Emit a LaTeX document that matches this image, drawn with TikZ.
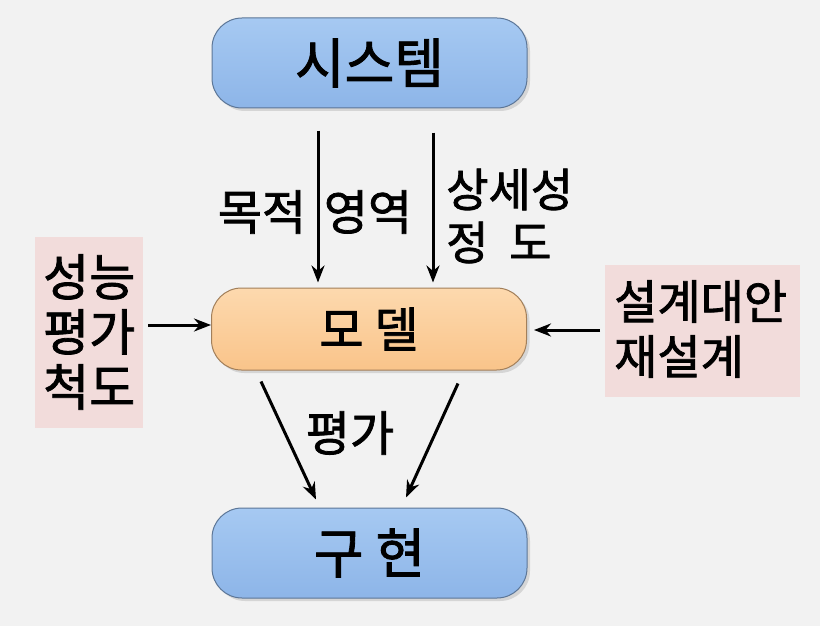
\documentclass[tikz,border=0pt]{standalone}
\usepackage{fontspec}
\setmainfont{Noto Sans CJK KR}[AutoFakeBold=1.6]
\usetikzlibrary{arrows.meta,shadows}

\definecolor{bgGray}{HTML}{F2F2F2}
\definecolor{boxBlue}{HTML}{8DB5E8}
\definecolor{boxBlueTop}{HTML}{A6C9F2}
\definecolor{boxOrange}{HTML}{F9C48A}
\definecolor{boxOrangeTop}{HTML}{FDD9AE}
\definecolor{sidePink}{HTML}{F2DCDB}

\tikzset{
  mainbox/.style={rounded corners=30pt, minimum width=315pt, minimum height=90pt,
    draw=#1!65!black, line width=1pt, inner sep=0pt,
    drop shadow={opacity=0.25, shadow xshift=3pt, shadow yshift=-3pt}},
  bluebox/.style={mainbox=boxBlue, top color=boxBlueTop, bottom color=boxBlue},
  orangebox/.style={mainbox=boxOrange, top color=boxOrangeTop, bottom color=boxOrange},
  arr/.style={-{Stealth[length=17pt,width=13pt]}, line width=3pt},
  lbl/.style={font=\bfseries\fontsize{48}{54}\selectfont, inner sep=0pt}
}

\begin{document}
\begin{tikzpicture}[x=1pt,y=-1pt]
    % Canvas
    \fill[bgGray] (0,0) rectangle (820,626);
    \useasboundingbox (0,0) rectangle (820,626);

    % Main boxes
    \node[bluebox, font=\bfseries\fontsize{54}{60}\selectfont] (sys) at (369.5,63) {시스템};
    \node[orangebox, minimum height=82pt, font=\bfseries\fontsize{48}{54}\selectfont] (model) at (369,329) {모 델};
    \node[bluebox, font=\bfseries\fontsize{54}{60}\selectfont] (impl) at (369.5,553) {구 현};

    % Side boxes
    \fill[sidePink] (35,237) rectangle (143,428);
    \node[lbl, anchor=west, align=left, font=\bfseries\fontsize{50}{55}\selectfont] (perf) at (43,332) {성능\\평가\\척도};
    \fill[sidePink] (605,265) rectangle (800,397);
    \node[lbl, anchor=west, align=left, font=\bfseries\fontsize{47}{55}\selectfont] (alt) at (614,329) {설계대안\\재설계};

    % Arrows into the model
    \draw[arr] ([xshift=-51.5pt,yshift=-22pt]sys.south) -- ([xshift=-51pt,yshift=5pt]model.north);
    \draw[arr] ([xshift=63.5pt,yshift=-24pt]sys.south) -- ([xshift=64pt,yshift=5pt]model.north);
    \draw[arr] (148,325) -- ([yshift=4pt]model.west);
    \draw[arr] (600,330) -- ([xshift=7pt,yshift=-1pt]model.east);

    % Arrows from the model to the implementation
    \draw[arr] ([xshift=-108pt,yshift=-11pt]model.south) -- ([xshift=-53.5pt,yshift=8pt]impl.north);
    \draw[arr] ([xshift=89pt,yshift=-13pt]model.south) -- ([xshift=36.5pt,yshift=10pt]impl.north);

    % Arrow labels
    \node[lbl] (purpose) at (262,212) {목적};
    \node[lbl] (scope) at (368,212) {영역};
    \node[lbl, anchor=west, align=left, font=\bfseries\fontsize{46}{53}\selectfont] (detail) at (446,216) {상세성\\정\ \ 도};
    \node[lbl] (evalLbl) at (350,433) {평가};
\end{tikzpicture}
\end{document}
